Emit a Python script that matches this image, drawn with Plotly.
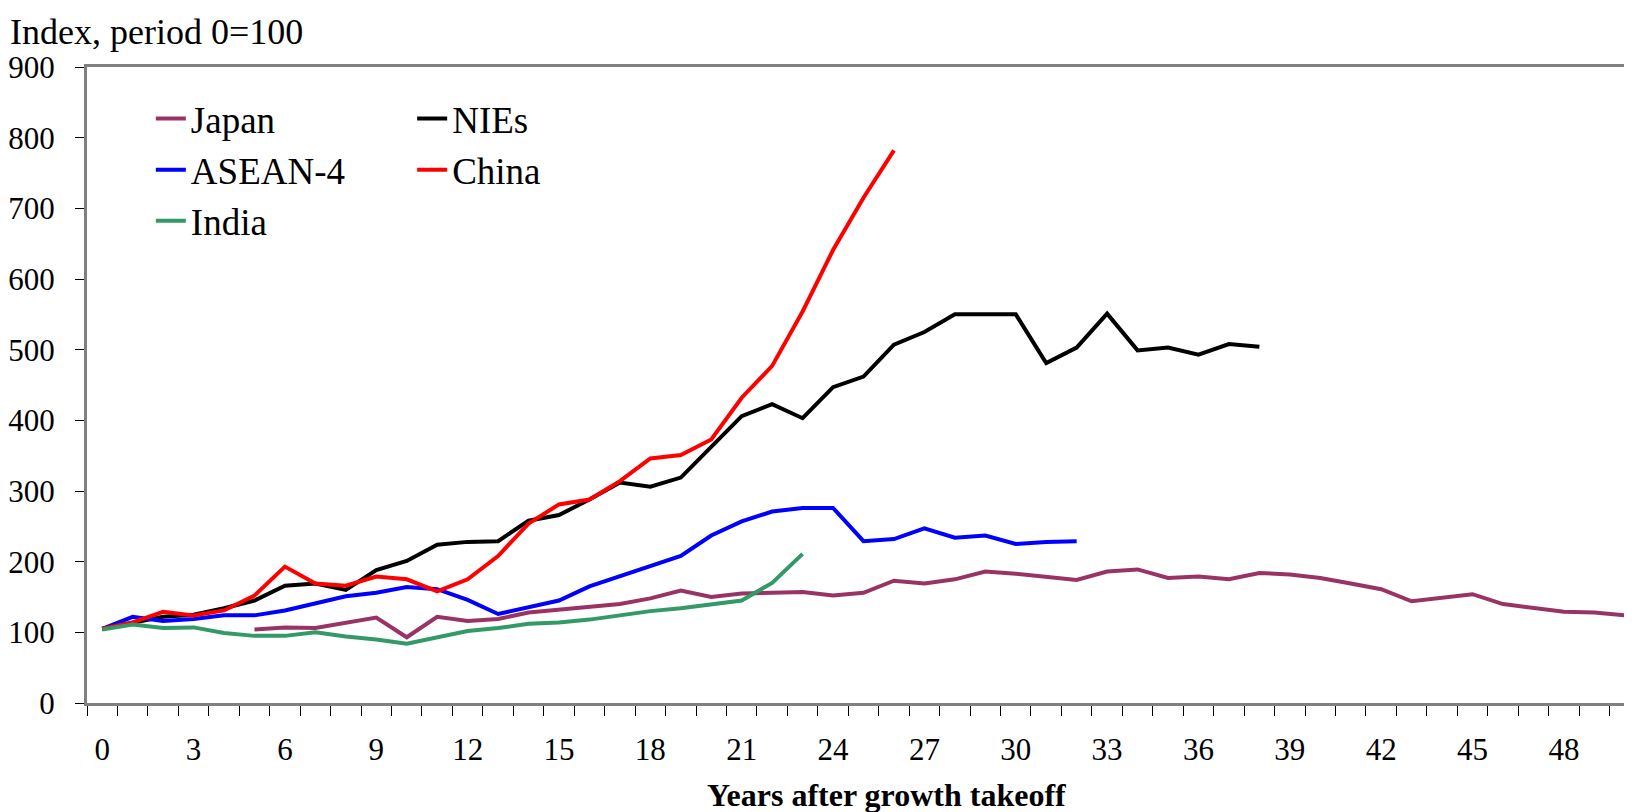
import plotly.graph_objects as go

# ---- data ----
years = list(range(0, 51))
tick_years = list(range(0, 49, 3))

japan_start = 5
japan = [104, 107, 106, 114, 121, 93, 122, 116, 119, 128, 132, 137, 140, 148, 159,
         150, 155, 156, 157, 152, 156, 173, 169, 175, 186, 183, 179, 174, 186, 189,
         177, 179, 175, 184, 182, 177, 169, 161, 144, 149, 154, 140, 134, 129, 128, 124]
nies = [105, 114, 122, 125, 134, 145, 166, 169, 160, 188, 201, 224, 228, 229, 258,
        266, 288, 312, 306, 319, 363, 406, 423, 403, 447, 462, 507, 525, 550, 550,
        550, 481, 503, 551, 499, 503, 493, 508, 504]
asean4 = [105, 122, 116, 119, 124, 124, 131, 141, 151, 156, 164, 161, 146, 126, 136,
          145, 165, 179, 194, 208, 237, 257, 271, 276, 276, 229, 232, 247, 234, 237,
          225, 228, 229]
china = [105, 114, 129, 124, 131, 152, 193, 169, 166, 179, 175, 158, 175, 208, 254,
         281, 288, 314, 346, 351, 373, 432, 477, 554, 641, 715, 782]
india = [104, 111, 106, 107, 99, 95, 95, 100, 94, 90, 84, 93, 102, 106, 112, 114,
         118, 124, 130, 134, 140, 145, 170, 211]

FONT = "Liberation Serif, Times New Roman, DejaVu Serif, serif"
LW = 4

series = [
    ("Japan", years[japan_start:japan_start + len(japan)], japan, "#993366", "legend"),
    ("NIEs", years[:len(nies)], nies, "#000000", "legend2"),
    ("ASEAN-4", years[:len(asean4)], asean4, "#0000FF", "legend"),
    ("China", years[:len(china)], china, "#FF0000", "legend2"),
    ("India", years[:len(india)], india, "#339966", "legend"),
]

fig = go.Figure()
for name, xs, ys, color, lg in series:
    fig.add_trace(go.Scatter(x=xs, y=ys, mode="lines", name=name,
                             line=dict(color=color, width=LW), legend=lg))

# page body has an 8px margin: figure is sized to fit the window
OFF = 8
W, H = 1632 - OFF, 812 - OFF
L, R, T, B = 83 - OFF, 0, 67 - OFF, 109
pw = W - L - R
ph = H - T - B

def px_x(p):  # window pixel -> paper x
    return (p - OFF - L) / pw

def px_y(p):  # window pixel -> paper y
    return (H - B - (p - OFF)) / ph

fig.update_layout(
    width=W, height=H,
    margin=dict(l=L, r=R, t=T, b=B),
    plot_bgcolor="white", paper_bgcolor="white",
    font=dict(family=FONT, color="black", size=31),
    title=dict(text="Index, period 0=100", x=(10 - OFF) / W, xanchor="left",
               xref="container", y=1 - 23 / H, yanchor="middle",
               yref="container", font=dict(family=FONT, size=36, color="black")),
    xaxis=dict(
        range=[-0.5, -0.5 + pw / 30.53],
        tickmode="array", tickvals=tick_years, ticktext=[str(v) for v in tick_years],
        ticks="", ticklabelstandoff=17,
        tickfont=dict(family=FONT, size=31, color="black"),
        showline=True, linecolor="#808080", linewidth=3, mirror=True,
        showgrid=False, zeroline=False,
        minor=dict(ticks="outside", tick0=-0.5, dtick=1, ticklen=10,
                   tickcolor="black", tickwidth=1, showgrid=False),
    ),
    yaxis=dict(
        range=[0, 900], tickmode="linear", tick0=0, dtick=100,
        ticks="outside", ticklen=9, tickcolor="black", tickwidth=1,
        ticklabelstandoff=14,
        tickfont=dict(family=FONT, size=31, color="black"),
        showline=True, linecolor="#808080", linewidth=3,
        showgrid=False, zeroline=False,
    ),
    legend=dict(x=px_x(147), y=px_y(88), xanchor="left", yanchor="top",
                bgcolor="rgba(0,0,0,0)", font=dict(family=FONT, size=37, color="black"),
                orientation="v"),
    legend2=dict(x=px_x(409), y=px_y(88), xanchor="left", yanchor="top",
                 bgcolor="rgba(0,0,0,0)", font=dict(family=FONT, size=37, color="black"),
                 orientation="v"),
    annotations=[dict(text="<b>Years after growth takeoff</b>", xref="paper", yref="paper",
                      x=px_x(885), y=px_y(795), xanchor="center", yanchor="middle",
                      showarrow=False, font=dict(family=FONT, size=32, color="black"))],
)

fig.write_html("out.html")
